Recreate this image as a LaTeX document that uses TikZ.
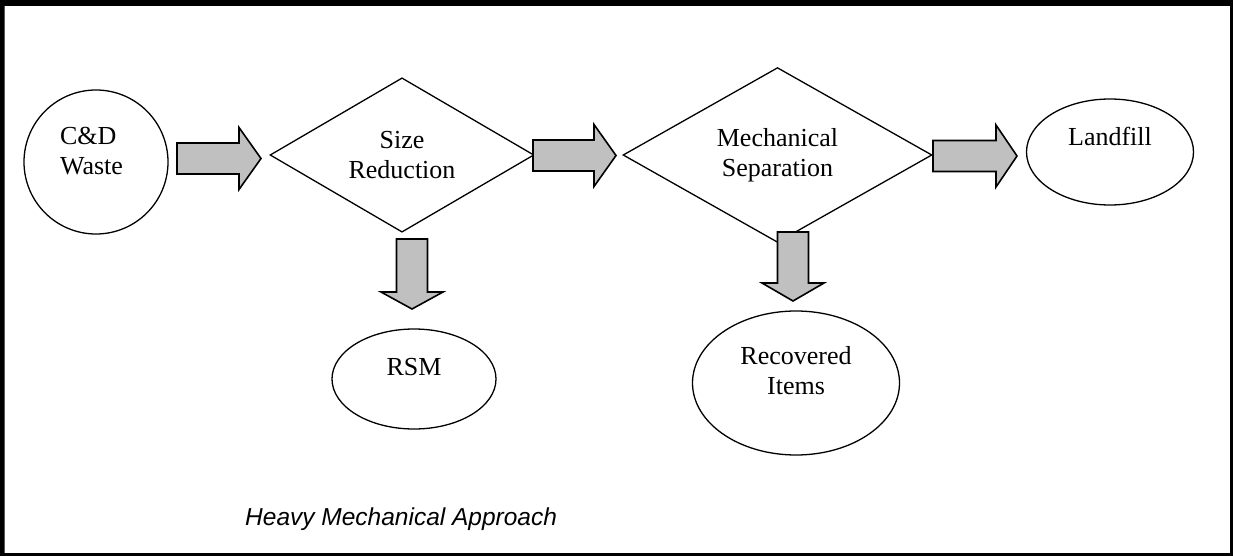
\documentclass[tikz,border=0pt]{standalone}
\usepackage{fontspec}
\setmainfont{Liberation Serif}
\newfontfamily\captionsans{Liberation Sans}
\usetikzlibrary{shapes.geometric,calc}

\definecolor{arrowfill}{HTML}{C0C0C0}

\begin{document}
\begin{tikzpicture}[
                x=1pt, y=-1pt,
                source/.style={circle, draw, line width=1.3pt, inner sep=0pt},
                process/.style={diamond, draw, line width=1.3pt, inner sep=0pt, align=center,
                    font=\fontsize{26}{30}\selectfont},
                product/.style={ellipse, draw, line width=1.3pt, inner sep=0pt},
                txt/.style={inner sep=0pt, align=center, font=\fontsize{26}{30}\selectfont},
                blockarrow/.style={draw, fill=arrowfill, line width=1.6pt, line join=miter,
                    to path={
                        ($(\tikztotarget)!#1!(\tikztostart)$) coordinate (headbase)
                        ($(\tikztostart)!15.5pt!90:(\tikztotarget)$)
                        -- ($(headbase)!15.5pt!90:(\tikztotarget)$)
                        -- ($(headbase)!31pt!90:(\tikztotarget)$)
                        -- (\tikztotarget)
                        -- ($(headbase)!31pt!-90:(\tikztotarget)$)
                        -- ($(headbase)!15.5pt!-90:(\tikztotarget)$)
                        -- ($(\tikztostart)!15.5pt!-90:(\tikztotarget)$)
                        -- cycle}},
                blockarrow/.default=22pt
                ]
            % Frame
            \useasboundingbox (0,0) rectangle (1233,556);
            \fill[even odd rule] (0,0) rectangle (1233,556) (4.5,6) rectangle (1230,553);

            % Nodes
            \node[source, minimum size=144pt] (cdw) at (96,162) {};
            \node[txt, align=left] (cdwtext) at (91.5,151) {C\&D\\Waste};
            \node[process, minimum width=264pt, minimum height=144pt] (sizered) at (402,155) {Size\\Reduction};
            \node[process, minimum width=309pt, minimum height=164pt] (mechsep) at (777.5,155) {Mechanical\\Separation};
            \node[product, minimum width=167pt, minimum height=106pt] (landfill) at (1110,152) {};
            \node[txt] (landfilltext) at (1110,136) {Landfill};
            \node[product, minimum width=164pt, minimum height=100pt] (rsm) at (414,379) {};
            \node[txt] (rsmtext) at (414,367.5) {RSM};
            \node[product, minimum width=207pt, minimum height=144pt] (recovered) at (796,383) {};
            \node[txt] (recoveredtext) at (796,371) {Recovered\\Items};
            \node[anchor=base west, inner sep=0pt, font=\captionsans\itshape\fontsize{24.5}{29}\selectfont]
                (approach) at (245,525) {Heavy Mechanical Approach};

            % Arrow ends
            \coordinate (a1s) at (177,158.5);
            \coordinate (a1e) at (261,158.5);
            \coordinate (a2s) at (533,155.5);
            \coordinate (a2e) at (616,155.5);
            \coordinate (a3s) at (933,156);
            \coordinate (a3e) at (1017,156);
            \coordinate (d1s) at (412,239);
            \coordinate (d1e) at (412,309);
            \coordinate (d2s) at (793,232);
            \coordinate (d2e) at (793,301);

            % Arrows
            \draw[blockarrow] (a1s) to (a1e);
            \draw[blockarrow] (a2s) to (a2e);
            \draw[blockarrow=21pt] (a3s) to (a3e);
            \draw[blockarrow=17pt] (d1s) to (d1e);
            \draw[blockarrow=18pt] (d2s) to (d2e);

            \end{tikzpicture}
\end{document}
